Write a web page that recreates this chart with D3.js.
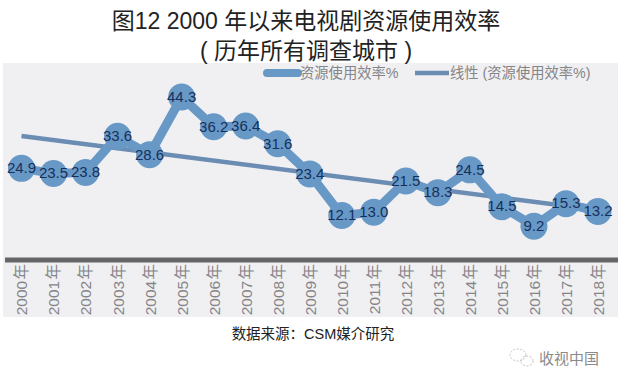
<!DOCTYPE html>
<html>
<head>
<meta charset="utf-8">
<script src="https://cdn.jsdelivr.net/npm/d3@7"></script>
<style>
    body { margin: 0; background: #fff; }
    svg { display: block; }
    text { font-family: "Liberation Sans", "Noto Sans CJK SC", sans-serif; }
</style>
</head>
<body>
<svg width="618" height="384"></svg>
<script>
// Chart data
var years = ['2000 年', '2001 年', '2002 年', '2003 年', '2004 年', '2005 年', '2006 年',
    '2007 年', '2008 年', '2009 年', '2010 年', '2011 年', '2012 年', '2013 年',
    '2014 年', '2015 年', '2016 年', '2017 年', '2018 年'];
var efficiency = [24.9, 23.5, 23.8, 33.6, 28.6, 44.3, 36.2, 36.4, 31.6, 23.4,
    12.1, 13.0, 21.5, 18.3, 24.5, 14.5, 9.2, 15.3, 13.2];
var labels = ['24.9', '23.5', '23.8', '33.6', '28.6', '44.3', '36.2', '36.4', '31.6', '23.4',
    '12.1', '13.0', '21.5', '18.3', '24.5', '14.5', '9.2', '15.3', '13.2'];
var trendYears = ['2000 年', '2018 年'];
var trendValues = [33.7, 13.6];
var titleLines = ['图12 2000 年以来电视剧资源使用效率', '( 历年所有调查城市 )'];
var legendNames = ['资源使用效率%', '线性 (资源使用效率%)'];

var svg = d3.select('svg');

// Panel behind the chart
svg.append('rect')
    .attr('x', 3)
    .attr('y', 63)
    .attr('width', 615)
    .attr('height', 254)
    .attr('fill', '#f0f0f2');

var xScale = d3.scalePoint()
    .domain(years)
    .range([21.5, 598]);

var yScale = d3.scaleLinear()
    .domain([0, 50])
    .range([260, 76]);

var line = d3.line()
    .x(function(d) { return xScale(d.year); })
    .y(function(d) { return yScale(d.value); });

var series = years.map(function(y, i) {
    return {year: y, value: efficiency[i], label: labels[i]};
});
var trend = trendYears.map(function(y, i) {
    return {year: y, value: trendValues[i]};
});

// Trend goes under the markers
svg.append('path')
    .datum(trend)
    .attr('d', line)
    .attr('fill', 'none')
    .attr('stroke', '#6c8db3')
    .attr('stroke-width', 4.5);

svg.append('path')
    .datum(series)
    .attr('d', line)
    .attr('fill', 'none')
    .attr('stroke', '#6898c6')
    .attr('stroke-width', 9);

svg.selectAll('.dot')
    .data(series)
    .enter()
    .append('circle')
    .attr('class', 'dot')
    .attr('cx', function(d) { return xScale(d.year); })
    .attr('cy', function(d) { return yScale(d.value); })
    .attr('r', 13.5)
    .attr('fill', '#6898c6');

svg.selectAll('.value')
    .data(series)
    .enter()
    .append('text')
    .attr('class', 'value')
    .attr('x', function(d) { return xScale(d.year); })
    .attr('y', function(d) { return yScale(d.value); })
    .attr('dy', '0.32em')
    .attr('text-anchor', 'middle')
    .attr('font-size', 15)
    .attr('fill', '#16305c')
    .text(function(d) { return d.label; });

// Bottom axis with rotated year labels
var xAxis = svg.append('g')
    .attr('transform', 'translate(0,260)')
    .call(d3.axisBottom(xScale).tickSize(0));

xAxis.select('.domain').remove();
xAxis.insert('rect', ':first-child')
    .attr('x', 5)
    .attr('y', -2.5)
    .attr('width', 613)
    .attr('height', 5)
    .attr('fill', '#666668');

xAxis.selectAll('.tick text')
    .attr('transform', 'rotate(-90)')
    .attr('x', -4)
    .attr('y', 0)
    .attr('dy', '0.35em')
    .attr('text-anchor', 'end')
    .attr('font-size', 15.5)
    .attr('word-spacing', '-3px')
    .attr('font-family', '"Liberation Sans", "Noto Sans CJK SC", sans-serif')
    .attr('fill', '#858588');

// Title
svg.selectAll('.title')
    .data(titleLines)
    .enter()
    .append('text')
    .attr('class', 'title')
    .attr('x', 306)
    .attr('y', function(d, i) { return 29 + i * 30; })
    .attr('text-anchor', 'middle')
    .attr('font-size', 23)
    .attr('fill', '#222')
    .text(function(d) { return d; });

// Legend
var legend = svg.append('g');
legend.append('line')
    .attr('x1', 267).attr('x2', 298)
    .attr('y1', 73).attr('y2', 73)
    .attr('stroke', '#6898c6')
    .attr('stroke-width', 8)
    .attr('stroke-linecap', 'round');
legend.append('line')
    .attr('x1', 415).attr('x2', 449)
    .attr('y1', 73).attr('y2', 73)
    .attr('stroke', '#6c8db3')
    .attr('stroke-width', 4.5);
legend.selectAll('.legend-name')
    .data(legendNames)
    .enter()
    .append('text')
    .attr('class', 'legend-name')
    .attr('x', function(d, i) { return i === 0 ? 300 : 450; })
    .attr('y', 78)
    .attr('font-size', 14.3)
    .attr('fill', '#858588')
    .text(function(d) { return d; });

// Source line
svg.append('text')
    .attr('x', 313)
    .attr('y', 339)
    .attr('text-anchor', 'middle')
    .attr('font-size', 14.5)
    .attr('fill', '#222')
    .text('数据来源：CSM媒介研究');

// Watermark
var mark = svg.append('g')
    .attr('fill', 'none')
    .attr('stroke', '#b5b5b5')
    .attr('stroke-width', 0.8)
    .attr('stroke-dasharray', '2,1.5');
mark.append('ellipse').attr('cx', 518).attr('cy', 355).attr('rx', 8).attr('ry', 6);
mark.append('ellipse').attr('cx', 527).attr('cy', 361).attr('rx', 6).attr('ry', 5);

svg.append('text')
    .attr('x', 539)
    .attr('y', 364)
    .attr('font-size', 15)
    .attr('fill', '#8a8a8a')
    .text('收视中国');
</script>
</body>
</html>
